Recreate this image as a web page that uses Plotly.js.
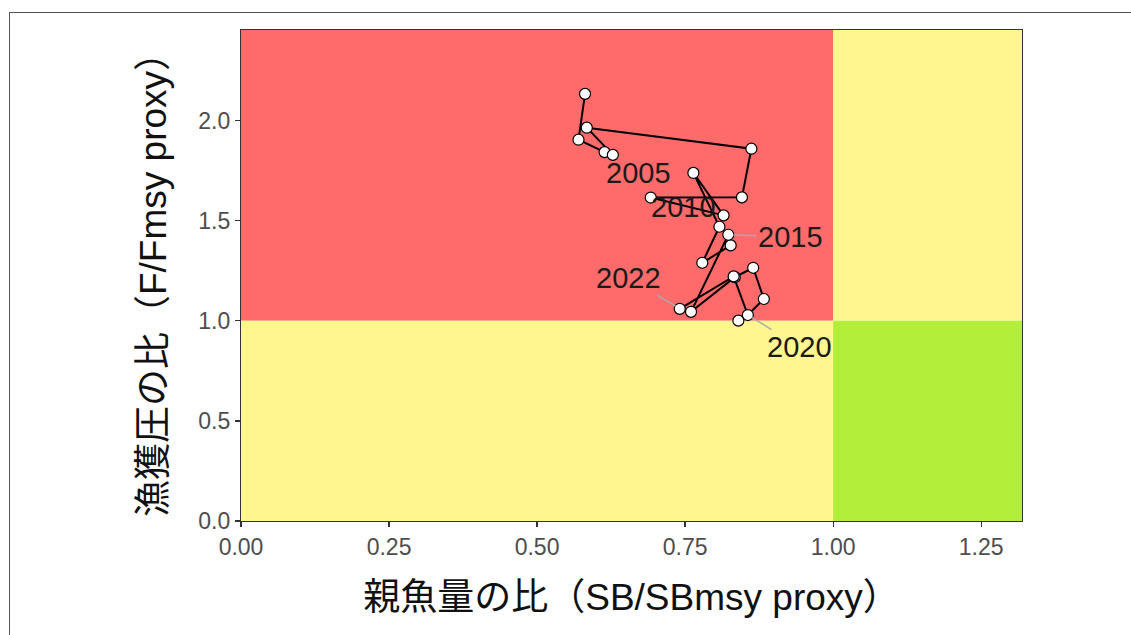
<!DOCTYPE html>
<html><head><meta charset="utf-8">
<script src="https://cdn.plot.ly/plotly-3.0.1.min.js"></script>
<style>
html,body{margin:0;padding:0;background:#fff;}
#frame{position:absolute;left:9px;top:12px;width:1122px;height:623px;border-left:1.5px solid #555;border-top:1.5px solid #555;}
#chart{position:absolute;left:0;top:0;width:1131px;height:635px;}
</style></head>
<body>
<div id="frame"></div>
<div id="chart"></div>
<script>
// Years along the trajectory
const years = [2002,2003,2004,2005,2006,2007,2008,2009,2010,2011,2012,2013,2014,2015,2016,2017,2018,2019,2020,2021,2022];
// SB/SBmsy ratio
const sbRatio = [0.581,0.570,0.614,0.628,0.584,0.862,0.846,0.692,0.815,0.764,0.808,0.779,0.827,0.823,0.760,0.834,0.865,0.883,0.856,0.832,0.741];
// F/Fmsy ratio
const fRatio  = [2.134,1.905,1.843,1.829,1.965,1.860,1.617,1.616,1.527,1.739,1.470,1.290,1.377,1.430,1.045,1.218,1.265,1.109,1.029,1.222,1.060];
// an additional point drawn without connection
const extraSB = [0.840];
const extraF  = [1.001];
// labelled years
const labelYears = [2005,2010,2015,2020,2022];
// x / y tick values
const xTicks = [0,0.25,0.5,0.75,1.0,1.25];
const xTickText = ['0.00','0.25','0.50','0.75','1.00','1.25'];
const yTicks = [0,0.5,1.0,1.5,2.0];
const yTickText = ['0.0','0.5','1.0','1.5','2.0'];

const xMax = 1.319, yMax = 2.453;
const FONT = 'Liberation Sans, Arial, Noto Sans CJK JP, sans-serif';
const TFONT = 'Liberation Sans, Noto Sans CJK JP, sans-serif';

const traces = [
  {x: sbRatio, y: fRatio, text: years.map(String), mode: 'lines+markers', type: 'scatter',
   line: {color: '#000', width: 2},
   marker: {size: 11, color: '#fff', line: {color: '#000', width: 1.2}},
   hoverinfo: 'x+y+text', showlegend: false},
  {x: extraSB, y: extraF, mode: 'markers', type: 'scatter',
   marker: {size: 11, color: '#fff', line: {color: '#000', width: 1.2}},
   showlegend: false}
];

// label offsets (pixels, text centre relative to point)
const labelOffsets = {2005: [26, 18], 2010: [-40, -8], 2015: [62, 2], 2020: [52, 32], 2022: [-51, -31]};
const labelArrow = {2005: false, 2010: false, 2015: true, 2020: true, 2022: true};
const annotations = labelYears.map(yr => {
  const i = years.indexOf(yr);
  return {x: sbRatio[i], y: fRatio[i], xref: 'x', yref: 'y', text: String(yr),
    showarrow: true, arrowhead: 0, arrowwidth: 1.5,
    arrowcolor: labelArrow[yr] ? '#AAAAAA' : 'rgba(0,0,0,0)', standoff: 5,
    ax: labelOffsets[yr][0], ay: labelOffsets[yr][1],
    font: {family: FONT, size: 29, color: '#1a1a1a'}};
});

const shapes = [
  {type: 'rect', xref: 'x', yref: 'y', x0: 0, x1: 1, y0: 1, y1: yMax, fillcolor: '#FF6A6A', line: {width: 0}, layer: 'below'},
  {type: 'rect', xref: 'x', yref: 'y', x0: 1, x1: xMax, y0: 1, y1: yMax, fillcolor: '#FFF68F', line: {width: 0}, layer: 'below'},
  {type: 'rect', xref: 'x', yref: 'y', x0: 0, x1: 1, y0: 0, y1: 1, fillcolor: '#FFF68F', line: {width: 0}, layer: 'below'},
  {type: 'rect', xref: 'x', yref: 'y', x0: 1, x1: xMax, y0: 0, y1: 1, fillcolor: '#B3EE3A', line: {width: 0}, layer: 'below'}
];

const layout = {
  width: 1131, height: 635,
  margin: {l: 241, r: 109, t: 30, b: 114, pad: 0},
  paper_bgcolor: 'rgba(0,0,0,0)', plot_bgcolor: '#fff',
  font: {family: FONT, color: '#333'},
  xaxis: {range: [0, xMax], tickvals: xTicks, ticktext: xTickText, showgrid: false, zeroline: false,
    showline: true, mirror: true, linecolor: '#333', linewidth: 1.2,
    ticks: 'outside', ticklen: 5, tickwidth: 1.2, tickcolor: '#333',
    tickfont: {family: FONT, size: 23, color: '#4D4D4D'},
    title: {text: '親魚量の比（SB/SBmsy proxy）', font: {family: TFONT, size: 37, color: '#111'}, standoff: 25}},
  yaxis: {range: [0, yMax], tickvals: yTicks, ticktext: yTickText, showgrid: false, zeroline: false,
    showline: true, mirror: true, linecolor: '#333', linewidth: 1.2,
    ticks: 'outside', ticklen: 5, tickwidth: 1.2, tickcolor: '#333',
    tickfont: {family: FONT, size: 23, color: '#4D4D4D'},
    title: {text: '漁獲圧の比（F/Fmsy proxy）', font: {family: TFONT, size: 37, color: '#111'}, standoff: 20}},
  shapes: shapes,
  annotations: annotations,
  showlegend: false
};

Plotly.newPlot('chart', traces, layout, {displayModeBar: false, staticPlot: true});
</script>
</body></html>
